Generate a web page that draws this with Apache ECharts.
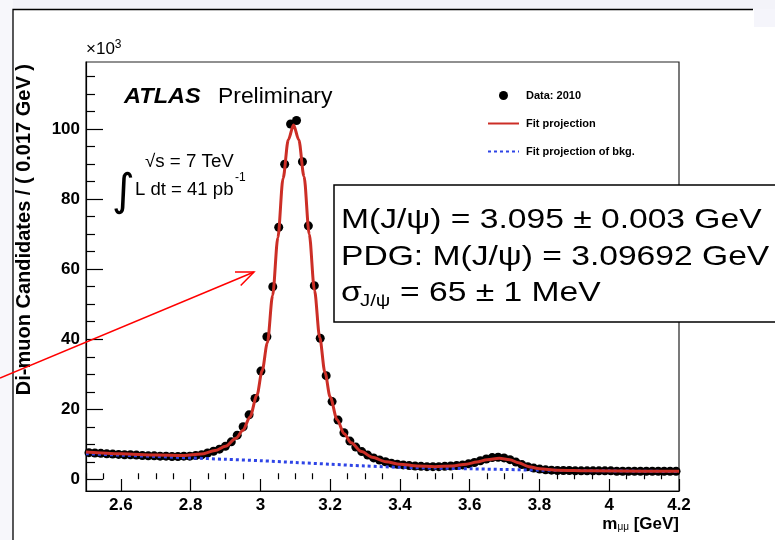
<!DOCTYPE html>
<html>
<head>
<meta charset="utf-8">
<script src="https://cdn.jsdelivr.net/npm/echarts@6/dist/echarts.min.js"></script>
<style>
  html, body { margin: 0; padding: 0; background: #fff; }
  #chart { width: 775px; height: 540px; }
</style>
</head>
<body>
<div id="chart"></div>
<script>
// histogram binning: 100 bins of 0.017 GeV from 2.5 GeV
const BIN_LO = 2.5
const BIN_W = 0.017

// di-muon candidates per bin (x10^3)
const counts = [
  7.6, 7.5, 7.4, 7.3, 7.2, 7.1, 7.0, 7.0, 6.9, 6.8,
  6.7, 6.7, 6.6, 6.6, 6.5, 6.5, 6.6, 6.6, 6.8, 7.0,
  7.5, 8.0, 8.6, 9.4, 10.7, 12.6, 15.0, 18.4, 23.1, 30.9,
  40.7, 55.0, 72.0, 90.0, 101.5, 102.5, 90.7, 72.4, 55.3, 40.3,
  29.6, 22.2, 16.9, 13.3, 10.9, 9.2, 7.9, 6.9, 6.1, 5.5,
  5.0, 4.6, 4.3, 4.1, 3.9, 3.8, 3.7, 3.6, 3.6, 3.6,
  3.7, 3.8, 3.9, 4.1, 4.4, 4.8, 5.3, 5.8, 6.2, 6.3,
  6.1, 5.6, 4.9, 4.2, 3.6, 3.2, 2.9, 2.7, 2.6, 2.5,
  2.5, 2.5, 2.4, 2.4, 2.4, 2.4, 2.4, 2.4, 2.4, 2.3,
  2.3, 2.3, 2.3, 2.3, 2.3, 2.3, 2.3, 2.3, 2.3, 2.3
]

// fit projection (signal + bkg)
const fitMass = [2.5, 2.6, 2.7, 2.78, 2.83, 2.87, 2.9, 2.93, 2.95, 2.97, 2.99, 3.005, 3.02, 3.035, 3.05, 3.065, 3.08, 3.095,
  3.11, 3.125, 3.14, 3.155, 3.17, 3.185, 3.2, 3.22, 3.24, 3.26, 3.29, 3.32, 3.36, 3.4, 3.45, 3.5, 3.55, 3.59, 3.62, 3.65,
  3.685, 3.715, 3.74, 3.77, 3.8, 3.85, 3.95, 4.1, 4.2]
const fitCounts = [7.8, 7.3, 6.9, 6.8, 7.2, 8.2, 9.4, 11.7, 14.0, 17.8, 24.0, 31.0, 39.0, 52.5, 69.0, 86.0, 97.0, 101.2,
  97.0, 86.5, 70.0, 54.0, 40.5, 30.5, 23.5, 17.0, 13.0, 10.4, 7.9, 6.3, 5.0, 4.3, 3.8, 3.6, 3.8, 4.3, 4.9, 5.6,
  6.0, 5.6, 4.7, 3.6, 3.0, 2.6, 2.4, 2.3, 2.3]

// fit projection of background
const bkgMass = [2.5, 2.6, 2.7, 2.8, 2.9, 3.0, 3.1, 3.2, 3.3, 3.4, 3.5, 3.6, 3.7, 3.8, 3.9, 4.0, 4.1, 4.2]
const bkgCounts = [7.3, 6.9, 6.5, 6.1, 5.7, 5.3, 4.8, 4.3, 3.8, 3.4, 3.2, 3.0, 2.8, 2.6, 2.5, 2.4, 2.3, 2.2]

// axis ticks
const xMajorTicks = [2.6, 2.8, 3.0, 3.2, 3.4, 3.6, 3.8, 4.0, 4.2]
const xMinorTicks = [2.5, 2.55, 2.65, 2.7, 2.75, 2.85, 2.9, 2.95, 3.05, 3.1, 3.15, 3.25, 3.3, 3.35,
  3.45, 3.5, 3.55, 3.65, 3.7, 3.75, 3.85, 3.9, 3.95, 4.05, 4.1, 4.15]
const yMajorTicks = [0, 20, 40, 60, 80, 100]
const yMinorTicks = [5, 10, 15, 25, 30, 35, 45, 50, 55, 65, 70, 75, 85, 90, 95, 105, 110, 115]

const massX = counts.map((_, i) => +(BIN_LO + BIN_W * (i + 0.5)).toFixed(4))

const FONT = '"Liberation Sans", Arial, Helvetica, sans-serif'
const RED = '#cc2e26'
const BLUE = '#2e44e6'

const fmtMass = v => String(+v.toFixed(2))

const chart = echarts.init(document.getElementById('chart'))

// red arrow from the slide, pointing at the J/psi peak
const arrowTip = [254, 272]
const arrowTail = [0, 378]
const ang = Math.atan2(arrowTail[1] - arrowTip[1], arrowTail[0] - arrowTip[0])
const wing = (da) => [arrowTip[0] + 19 * Math.cos(ang + da), arrowTip[1] + 19 * Math.sin(ang + da)]

const boxText = (text, x, y, size) => ({
  type: 'text', x, y, z: 21, scaleX: 1.2,
  style: { text, fontFamily: FONT, fontSize: size || 28, fill: '#000', verticalAlign: 'middle' },
})

chart.setOption({
  backgroundColor: '#fff',
  animation: false,
  grid: {
    left: 86, top: 62, width: 593, height: 429,
    show: true, borderColor: '#222', borderWidth: 1.2,
  },
  legend: {
    orient: 'vertical',
    left: 487, top: 90,
    padding: 0,
    itemWidth: 31, itemHeight: 9, itemGap: 17,
    textStyle: { fontFamily: FONT, fontSize: 11, fontWeight: 'bold', color: '#000', padding: [0, 0, 0, 2] },
    data: [
      { name: 'Data: 2010', icon: 'circle' },
      { name: 'Fit projection', itemStyle: { opacity: 0 } },
      { name: 'Fit projection of bkg.', itemStyle: { opacity: 0 } },
    ],
  },
  xAxis: [
    {
      type: 'value', min: 2.5, max: 4.2,
      axisLine: { show: true, onZero: false, lineStyle: { color: '#000', width: 1.2 } },
      axisTick: { show: true, inside: true, length: 12, customValues: xMajorTicks, lineStyle: { color: '#000', width: 1.2 } },
      axisLabel: {
        customValues: xMajorTicks, formatter: fmtMass, margin: 6,
        fontFamily: FONT, fontSize: 17, fontWeight: 'bold', color: '#000',
      },
      splitLine: { show: false },
    },
    {
      type: 'value', min: 2.5, max: 4.2, position: 'bottom', offset: 0,
      axisLine: { show: false },
      axisTick: { show: true, inside: true, length: 6, customValues: xMinorTicks, lineStyle: { color: '#000', width: 1.2 } },
      axisLabel: { show: false },
      splitLine: { show: false },
    },
  ],
  yAxis: [
    {
      type: 'value', min: -3.35, max: 119.2,
      axisLine: { show: true, onZero: false, lineStyle: { color: '#000', width: 1.2 } },
      axisTick: { show: true, inside: true, length: 17, customValues: yMajorTicks, lineStyle: { color: '#000', width: 1.2 } },
      axisLabel: {
        customValues: yMajorTicks, margin: 6,
        fontFamily: FONT, fontSize: 17, fontWeight: 'bold', color: '#000',
      },
      splitLine: { show: false },
    },
    {
      type: 'value', min: -3.35, max: 119.2, position: 'left', offset: 0,
      axisLine: { show: false },
      axisTick: { show: true, inside: true, length: 9, customValues: yMinorTicks, lineStyle: { color: '#000', width: 1.2 } },
      axisLabel: { show: false },
      splitLine: { show: false },
    },
  ],
  series: [
    {
      name: 'Data: 2010',
      type: 'scatter',
      symbol: 'circle',
      symbolSize: 9,
      itemStyle: { color: '#000', opacity: 1 },
      data: massX.map((m, i) => [m, counts[i]]),
      z: 2,
    },
    {
      name: 'Fit projection of bkg.',
      type: 'line',
      symbol: 'none',
      smooth: 0.3,
      lineStyle: { color: BLUE, width: 3, type: [3, 3] },
      itemStyle: { color: BLUE },
      data: bkgMass.map((m, i) => [m, bkgCounts[i]]),
      z: 3,
    },
    {
      name: 'Fit projection',
      type: 'line',
      symbol: 'none',
      smooth: 0.3,
      smoothMonotone: 'x',
      lineStyle: { color: RED, width: 3 },
      itemStyle: { color: RED },
      data: fitMass.map((m, i) => [m, fitCounts[i]]),
      z: 4,
    },
  ],
  graphic: [
    // slide frame
    { type: 'rect', shape: { x: 0, y: 0, width: 775, height: 9 }, style: { fill: '#f3f3f9' }, silent: true, z: 0 },
    { type: 'rect', shape: { x: 0, y: 0, width: 13, height: 540 }, style: { fill: '#f7f7fb' }, silent: true, z: 0 },
    { type: 'rect', shape: { x: 754, y: 9, width: 21, height: 18 }, style: { fill: '#f5f5fb' }, silent: true, z: 0 },
    { type: 'polyline', shape: { points: [[13, 540], [13, 9.5], [753, 9.5]] }, style: { stroke: '#000', lineWidth: 1.3, fill: null }, silent: true, z: 1 },

    // exponent
    {
      type: 'text', x: 86, y: 60,
      style: {
        text: '×10{sup|3}', fontFamily: FONT, fontSize: 17, fill: '#000',
        verticalAlign: 'bottom',
        rich: { sup: { fontSize: 12, fontFamily: FONT, padding: [0, 0, 9, 0] } },
      },
    },
    // y title
    {
      type: 'text', x: 24, y: 64, rotation: Math.PI / 2,
      style: {
        text: 'Di-muon Candidates / ( 0.017 GeV )', fontFamily: FONT, fontSize: 20, fontWeight: 'bold',
        fill: '#000', align: 'right', verticalAlign: 'middle',
      },
    },
    // x title
    {
      type: 'text', x: 679, y: 533,
      style: {
        text: 'm{sub|μμ} [GeV]', fontFamily: FONT, fontSize: 17, fontWeight: 'bold',
        fill: '#000', align: 'right', verticalAlign: 'bottom',
        rich: { sub: { fontSize: 10, fontFamily: FONT, padding: [6, 0, 0, 0] } },
      },
    },
    // ATLAS label
    {
      type: 'text', x: 124, y: 97, scaleX: 1.07,
      style: { text: 'ATLAS', fontFamily: FONT, fontSize: 22, fontWeight: 'bold', fontStyle: 'italic', fill: '#000', verticalAlign: 'middle' },
    },
    {
      type: 'text', x: 218, y: 97, scaleX: 1.04,
      style: { text: 'Preliminary', fontFamily: FONT, fontSize: 22, fill: '#000', verticalAlign: 'middle' },
    },
    {
      type: 'text', x: 145, y: 162, scaleX: 1.04,
      style: { text: '√s = 7 TeV', fontFamily: FONT, fontSize: 18, fill: '#000', verticalAlign: 'middle' },
    },
    {
      type: 'text', x: 112, y: 194,
      style: { text: '∫', fontFamily: '"DejaVu Sans", sans-serif', fontSize: 44, fill: '#000', verticalAlign: 'middle' },
    },
    {
      type: 'text', x: 135, y: 190, scaleX: 1.03,
      style: { text: 'L dt = 41 pb', fontFamily: FONT, fontSize: 18, fill: '#000', verticalAlign: 'middle' },
    },
    {
      type: 'text', x: 235, y: 178,
      style: { text: '-1', fontFamily: FONT, fontSize: 12, fill: '#000', verticalAlign: 'middle' },
    },

    // result box
    {
      type: 'rect', shape: { x: 334, y: 185, width: 460, height: 137 },
      style: { fill: '#fff', stroke: '#000', lineWidth: 1.5 }, z: 20,
    },
    boxText('M(J/ψ) = 3.095 ± 0.003 GeV', 341, 220),
    boxText('PDG: M(J/ψ) = 3.09692 GeV', 341, 257),
    boxText('σ', 341, 293),
    boxText('J/ψ', 360, 301, 17),
    boxText('= 65 ± 1 MeV', 400, 293),

    // red arrow
    {
      type: 'polyline', z: 30,
      shape: { points: [arrowTail, arrowTip] },
      style: { stroke: '#f00', lineWidth: 1.5, fill: null },
    },
    {
      type: 'polyline', z: 30,
      shape: { points: [wing(0.4), arrowTip, wing(-0.4)] },
      style: { stroke: '#f00', lineWidth: 1.5, fill: null },
    },
  ],
})
</script>
</body>
</html>
